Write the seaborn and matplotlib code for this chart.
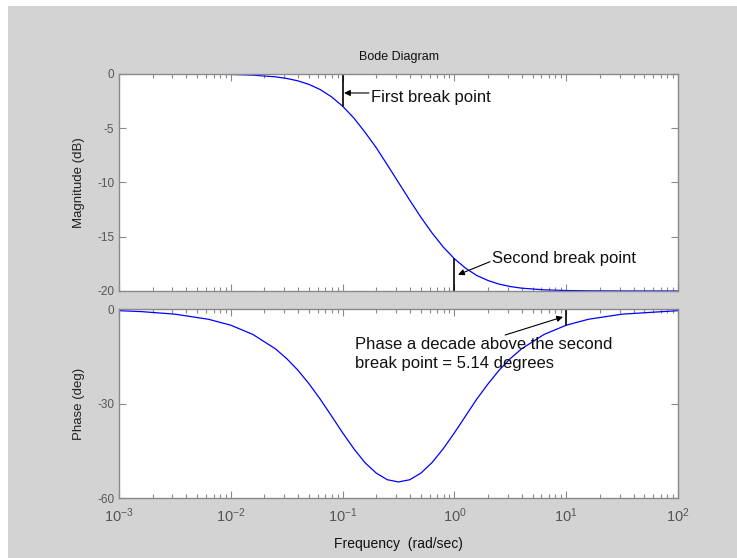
import matplotlib
matplotlib.use("Agg")
import matplotlib.pyplot as plt
from matplotlib.patches import Rectangle
from matplotlib.ticker import LogLocator, NullFormatter, FixedLocator
import numpy as np
import pandas as pd
import seaborn as sns

# values (frequency in rad/sec)
freq = [0.001, 0.00158, 0.00316, 0.00631, 0.01, 0.0158, 0.0251, 0.0316, 0.0398,
        0.0501, 0.0631, 0.0794, 0.1, 0.126, 0.158, 0.2, 0.251, 0.316, 0.398,
        0.501, 0.631, 0.794, 1.0, 1.26, 1.58, 2.0, 2.51, 3.16, 3.98, 6.31,
        10.0, 15.8, 31.6, 100.0]
mag_db = [0.0, -0.001, -0.004, -0.017, -0.043, -0.107, -0.263, -0.410, -0.632,
          -0.962, -1.438, -2.097, -2.967, -4.057, -5.347, -6.80, -8.373, -10.0,
          -11.627, -13.20, -14.653, -15.943, -17.033, -17.903, -18.562, -19.038,
          -19.368, -19.590, -19.737, -19.893, -19.957, -19.983, -19.996, -20.0]
phase_deg = [-0.52, -0.82, -1.63, -3.25, -5.14, -8.10, -12.66, -15.74, -19.42,
             -23.75, -28.64, -33.92, -39.29, -44.36, -48.74, -52.10, -54.20,
             -54.90, -54.20, -52.10, -48.74, -44.36, -39.29, -33.92, -28.64,
             -23.75, -19.42, -15.74, -12.66, -8.10, -5.14, -3.25, -1.63, -0.52]

mag_ticks = [0, -5, -10, -15, -20]
mag_ticklabels = ["0", "-5", "-10", "-15", "-20"]
phase_ticks = [0, -30, -60]
phase_ticklabels = ["0", "-30", "-60"]
freq_ticks = [1e-3, 1e-2, 1e-1, 1e0, 1e1, 1e2]
freq_ticklabels = ["$10^{-3}$", "$10^{-2}$", "$10^{-1}$", "$10^{0}$", "$10^{1}$", "$10^{2}$"]

first_break = (0.1, -2.967)
second_break = (1.0, -17.033)
decade_above = (10.0, -5.14)

df = pd.DataFrame({"freq": freq, "mag": mag_db, "phase": phase_deg})

sns.set_style("ticks")
plt.rcParams["font.family"] = ["Liberation Sans", "DejaVu Sans"]
plt.rcParams["mathtext.fontset"] = "custom"
plt.rcParams["mathtext.rm"] = "Liberation Sans"
plt.rcParams["mathtext.it"] = "Liberation Sans"

BG = "#d3d3d3"
SPINE = "#8a8a8a"
TICKTXT = "#555555"

fig = plt.figure(figsize=(7.37, 5.58), dpi=100, facecolor="white")
fig.patches.append(Rectangle((8 / 737, 0), 1, 1 - 6 / 558, transform=fig.transFigure,
                             facecolor=BG, edgecolor="none", zorder=-10))

ax1 = fig.add_axes([0.1615, 0.4785, 0.7585, 0.3889])
ax2 = fig.add_axes([0.1615, 0.1075, 0.7585, 0.3387], sharex=ax1)

sns.lineplot(data=df, x="freq", y="mag", ax=ax1, color="#0000ff", lw=0.9)
sns.lineplot(data=df, x="freq", y="phase", ax=ax2, color="#0000ff", lw=0.9)

for ax in (ax1, ax2):
    ax.set_xscale("log")
    ax.set_xlim(1e-3, 1e2)
    ax.set_facecolor("white")
    for sp in ax.spines.values():
        sp.set_visible(True)
        sp.set_color(SPINE)
        sp.set_linewidth(1.0)
    ax.xaxis.set_major_locator(FixedLocator(freq_ticks))
    ax.xaxis.set_minor_locator(LogLocator(base=10, subs=np.arange(2, 10), numticks=20))
    ax.xaxis.set_minor_formatter(NullFormatter())
    ax.tick_params(which="both", direction="in", top=True, right=True,
                   colors=SPINE, labelcolor=TICKTXT, labelsize=8.5)
    ax.tick_params(which="major", length=5, width=0.8)
    ax.tick_params(which="minor", length=3, width=0.8)
    ax.set_xlabel("")
    ax.set_ylabel("")

ax1.set_ylim(-20, 0)
ax1.set_yticks(mag_ticks)
ax1.set_yticklabels(mag_ticklabels)
ax1.tick_params(labelbottom=False)
ax1.set_ylabel("Magnitude (dB)", fontsize=9.5, color="#222222", labelpad=9)
ax1.set_title("Bode Diagram", fontsize=9, color="#111111", pad=10)

ax2.set_ylim(-60, 0)
ax2.set_yticks(phase_ticks)
ax2.set_yticklabels(phase_ticklabels)
ax2.set_xticklabels(freq_ticklabels)
ax2.tick_params(axis="x", labelsize=10.5, pad=6)
ax2.set_ylabel("Phase (deg)", fontsize=9.5, color="#222222", labelpad=9)
ax2.set_xlabel("Frequency  (rad/sec)", fontsize=10, color="#111111", labelpad=9)

# break-point markers
ax1.plot([first_break[0]] * 2, [0, first_break[1]], color="black", lw=1.2)
ax1.plot([second_break[0]] * 2, [-20, second_break[1]], color="black", lw=1.2)
ax2.plot([decade_above[0]] * 2, [0, decade_above[1]], color="black", lw=1.2)

arrow = dict(arrowstyle="-|>", color="black", lw=0.8, mutation_scale=9,
             shrinkA=0, shrinkB=0)
ax1.annotate("", xy=(0.103, -1.75), xytext=(0.172, -1.75), arrowprops=arrow)
ax1.text(0.18, -2.2, "First break point", fontsize=12, color="#111111", va="center")
ax1.annotate("", xy=(1.077, -18.5), xytext=(2.08, -17.3), arrowprops=arrow)
ax1.text(2.17, -17.05, "Second break point", fontsize=12, color="#111111", va="center")
ax2.annotate("", xy=(9.36, -2.5), xytext=(2.84, -8.25), arrowprops=arrow)
ax2.text(0.129, -14.3, "Phase a decade above the second\nbreak point = 5.14 degrees",
         fontsize=12, color="#111111", va="center", linespacing=1.3)

fig.savefig("out.png", dpi=100, facecolor=fig.get_facecolor())
